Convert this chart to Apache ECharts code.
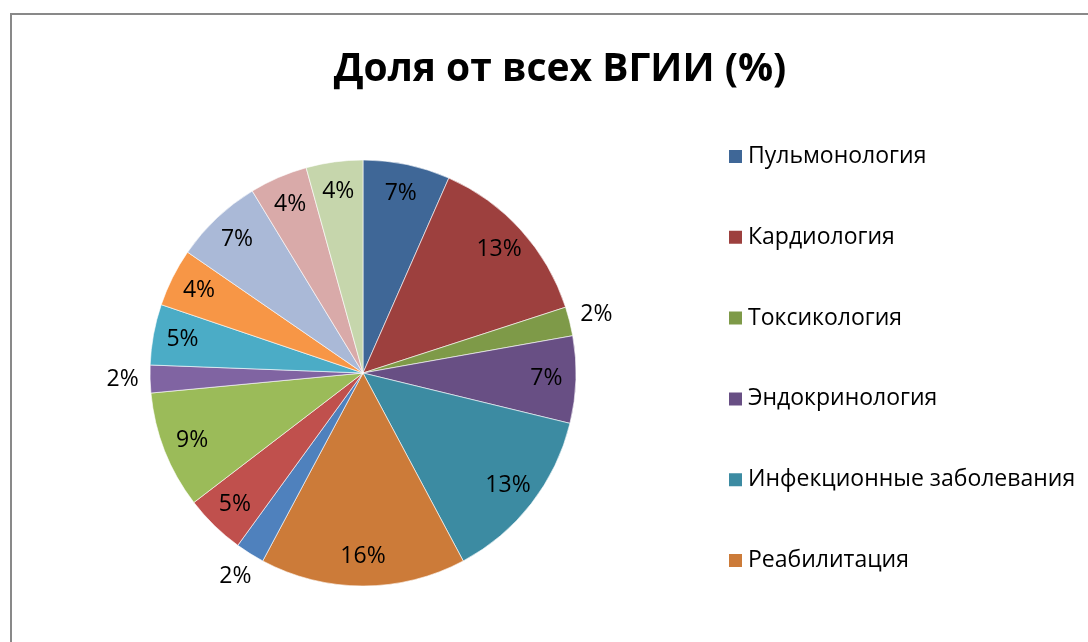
<!DOCTYPE html>
<html>
<head>
<meta charset="utf-8">
<script src="https://cdn.jsdelivr.net/npm/echarts@6/dist/echarts.min.js"></script>
<style>
  html, body { margin: 0; padding: 0; background: #fff; }
  #chart { width: 1088px; height: 642px; }
</style>
</head>
<body>
<div id="chart"></div>
<script>
// доли по отделениям, % (по углам секторов)
var names = ['Пульмонология', 'Кардиология', 'Токсикология', 'Эндокринология', 'Инфекционные заболевания', 'Реабилитация',
  'Прочее 1', 'Прочее 2', 'Прочее 3', 'Прочее 4', 'Прочее 5', 'Прочее 6', 'Прочее 7', 'Прочее 8', 'Прочее 9']
var values = [6.6, 13.4, 2.2, 6.6, 13.4, 15.6, 2.2, 4.6, 8.9, 2.1, 4.6, 4.4, 6.7, 4.4, 4.3]
var legendNames = names.slice(0, 6)
var colors = ['#3f6797', '#9d403e', '#7e9a48', '#684f84', '#3c8ba2', '#cc7b39',
  '#4f81bd', '#c0504d', '#9bbb59', '#8064a2', '#4bacc6', '#f79646', '#aab9d7', '#d9aaa9', '#c6d6ac']

var chart = echarts.init(document.getElementById('chart'))
var font = 'Open Sans'
var center = [363, 373]

var pieData = names.map(function (n, i) {
  return { name: n, value: values[i], itemStyle: { color: colors[i] } }
})
// подписи: крупные внутри, мелкие снаружи
var innerLabels = names.map(function (n, i) {
  return { name: n, value: values[i], label: { show: values[i] >= 3 } }
})
var outerLabels = names.map(function (n, i) {
  return { name: n, value: values[i], label: { show: values[i] < 3 } }
})
var labelStyle = {
  position: 'inside',
  color: '#000',
  fontFamily: font,
  fontSize: 23,
  formatter: function (p) { return Math.round(p.value) + '%' }
}

var option = {
  animation: false,
  title: {
    text: 'Доля от всех ВГИИ (%)',
    left: 555,
    top: 45,
    textAlign: 'center',
    textStyle: { fontFamily: font, fontWeight: 'bold', fontSize: 39, color: '#000' }
  },
  legend: {
    data: legendNames,
    orient: 'vertical',
    left: 722,
    top: 140,
    icon: 'rect',
    itemWidth: 15,
    itemHeight: 15,
    itemGap: 57.8,
    selectedMode: false,
    textStyle: { fontFamily: font, fontSize: 23, lineHeight: 22, color: '#000' }
  },
  graphic: [{
    type: 'rect',
    shape: { x: 11, y: 14, width: 1100, height: 700 },
    style: { fill: 'none', stroke: '#898989', lineWidth: 2 },
    silent: true
  }],
  series: [
    {
      type: 'pie',
      center: center,
      radius: 213,
      startAngle: 90,
      label: { show: false },
      labelLine: { show: false },
      itemStyle: { borderColor: '#fff', borderWidth: 0.6 },
      emphasis: { disabled: true },
      data: pieData
    },
    {
      type: 'pie',
      center: center,
      radius: [148, 213],
      startAngle: 90,
      silent: true,
      itemStyle: { color: 'transparent' },
      label: labelStyle,
      labelLine: { show: false },
      emphasis: { disabled: true },
      data: innerLabels
    },
    {
      type: 'pie',
      center: center,
      radius: [213, 262],
      startAngle: 90,
      silent: true,
      itemStyle: { color: 'transparent' },
      label: labelStyle,
      labelLine: { show: false },
      emphasis: { disabled: true },
      data: outerLabels
    }
  ]
}
chart.setOption(option)
</script>
</body>
</html>
